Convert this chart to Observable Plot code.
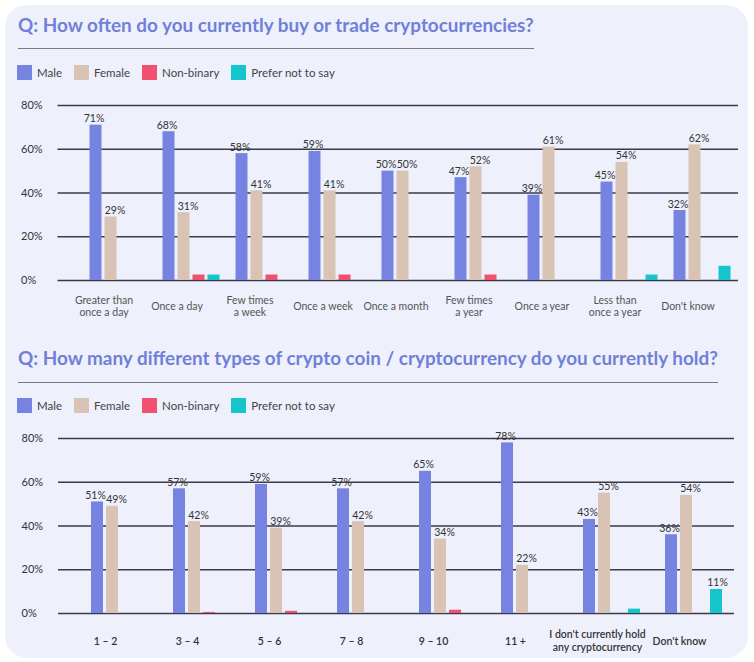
<!DOCTYPE html>
<html>
<head>
<meta charset="utf-8">
<script src="https://cdn.jsdelivr.net/npm/d3@7"></script>
<script src="https://cdn.jsdelivr.net/npm/@observablehq/plot@0.6"></script>
<style>
html,body{margin:0;padding:0;background:#fff;}
body{width:754px;height:662px;position:relative;overflow:hidden;font-family:Lato,"Open Sans",sans-serif;}
.card{position:absolute;left:5px;top:5px;width:743px;height:653px;background:#eef0fc;border-radius:22px;}
.title{position:absolute;left:18px;font-weight:700;font-size:18.9px;line-height:22px;color:#7080d8;border-bottom:1.5px solid #7a7b86;white-space:nowrap;}
.legend{position:absolute;left:17px;display:flex;align-items:center;font-size:11.5px;color:#444;height:15px;}
.legend .item{display:flex;align-items:center;margin-right:12px;}
.legend .sw{width:15px;height:15px;display:inline-block;margin-right:5px;}
.chart{position:absolute;left:0;}
</style>
</head>
<body>
<div class="card"></div>
<div class="title" id="t1" style="top:13.6px;padding-bottom:12.4px;">Q: How often do you currently buy or trade cryptocurrencies?</div>
<div class="legend" id="l1" style="top:65px;"></div>
<div class="chart" id="c1" style="top:92px;"></div>
<div class="title" id="t2" style="top:346.6px;padding-bottom:13.4px;">Q: How many different types of crypto coin / cryptocurrency do you currently hold?</div>
<div class="legend" id="l2" style="top:398px;"></div>
<div class="chart" id="c2" style="top:425px;"></div>
<script>
// ---- data ----
const genders = ["Male", "Female", "Non-binary", "Prefer not to say"];
const genderColors = ["#7683e0", "#d8c3b4", "#f2506f", "#14c6cc"];
const yTicks = [0, 20, 40, 60, 80];

const freqCats = ["Greater than once a day", "Once a day", "Few times a week", "Once a week", "Once a month", "Few times a year", "Once a year", "Less than once a year", "Don't know"];
const freqLabels = ["Greater than\nonce a day", "Once a day", "Few times\na week", "Once a week", "Once a month", "Few times\na year", "Once a year", "Less than\nonce a year", "Don't know"];
const freqMale = [71, 68, 58, 59, 50, 47, 39, 45, 32];
const freqFemale = [29, 31, 41, 41, 50, 52, 61, 54, 62];
const freqNonBinary = [0, 2.5, 2.5, 2.5, 0, 2.5, 0, 0, 0];
const freqPreferNot = [0, 2.5, 0, 0, 0, 0, 0, 2.5, 6.5];

const holdCats = ["1 – 2", "3 – 4", "5 – 6", "7 – 8", "9 – 10", "11 +", "I don't currently hold any cryptocurrency", "Don't know"];
const holdLabels = ["1 – 2", "3 – 4", "5 – 6", "7 – 8", "9 – 10", "11 +", "I don't currently hold\nany cryptocurrency", "Don't know"];
const holdMale = [51, 57, 59, 57, 65, 78, 43, 36];
const holdFemale = [49, 42, 39, 42, 34, 22, 55, 54];
const holdNonBinary = [0, 0.5, 1, 0, 1.5, 0, 0, 0];
const holdPreferNot = [0, 0, 0, 0, 0, 0, 2, 11];

// ---- legend ----
function legend(el) {
  el.innerHTML = genders.map((g, i) =>
    `<div class="item"><span class="sw" style="background:${genderColors[i]}"></span>${g}</div>`).join("");
}
legend(document.getElementById("l1"));
legend(document.getElementById("l2"));

// ---- chart ----
function chart(cats, labels, series, o) {
  const rows = [];
  cats.forEach((c, i) => genders.forEach((g, j) => {
    const v = series[j][i];
    if (v > 0) rows.push({cat: c, gender: g, value: v});
  }));
  const facetW = (754 - o.marginLeft - o.marginRight) / cats.length;
  const step = facetW / 15.5;
  const labelRows = rows.filter(d => d.gender === "Male" || d.gender === "Female" || d.value >= 10);
  const labelOpts = {fx: "cat", x: "gender", y: "value", text: d => Math.round(d.value) + "%",
    dy: -3, lineAnchor: "bottom", fontSize: 10.5, fill: "#333"};
  return Plot.plot({
    width: 754,
    height: o.height,
    marginLeft: o.marginLeft,
    marginRight: o.marginRight,
    marginTop: o.marginTop,
    marginBottom: o.marginBottom,
    style: {fontFamily: "Lato, 'Open Sans', sans-serif", background: "transparent", overflow: "visible"},
    fx: {domain: cats, paddingInner: 0, paddingOuter: 0, axis: null},
    x: {domain: genders, paddingInner: 0.2258, paddingOuter: (step - 4 + 0.2258) / 2, axis: null},
    y: {domain: [0, 80]},
    color: {domain: genders, range: genderColors},
    marks: [
      Plot.ruleY(yTicks, {stroke: "#3a3b48", strokeWidth: 1.5}),
      Plot.axisY({ticks: yTicks, tickFormat: d => d + "%", tickSize: o.marginLeft - 55, tickPadding: 37, label: null,
        textAnchor: "start", stroke: "#3a3b48", strokeWidth: 1.5, fill: "#333", fontSize: 11}),
      Plot.barY(rows, {fx: "cat", x: "gender", y: "value", fill: "gender"}),
      Plot.text(labelRows.filter(d => d.gender === "Male"), {...labelOpts, dx: -2}),
      Plot.text(labelRows.filter(d => d.gender === "Female"), {...labelOpts, dx: 4}),
      Plot.text(labelRows.filter(d => d.gender !== "Male" && d.gender !== "Female"), {...labelOpts, dx: 1}),
      Plot.text(cats, {fx: d => d, text: d => labels[cats.indexOf(d)], frameAnchor: "bottom",
        dy: o.labelDy, dx: -14, lineAnchor: "middle", lineHeight: 1.2, fontSize: 10.5,
        fill: o.labelColor, fontWeight: o.labelWeight})
    ]
  });
}

document.getElementById("c1").append(chart(freqCats, freqLabels,
  [freqMale, freqFemale, freqNonBinary, freqPreferNot],
  {height: 228, marginLeft: 78.5, marginRight: 14, marginTop: 13, marginBottom: 40, labelDy: 25.5, labelColor: "#555", labelWeight: 400}));

document.getElementById("c2").append(chart(holdCats, holdLabels,
  [holdMale, holdFemale, holdNonBinary, holdPreferNot],
  {height: 233, marginLeft: 75, marginRight: 18, marginTop: 13, marginBottom: 45, labelDy: 27, labelColor: "#333", labelWeight: 600}));
</script>
</body>
</html>
